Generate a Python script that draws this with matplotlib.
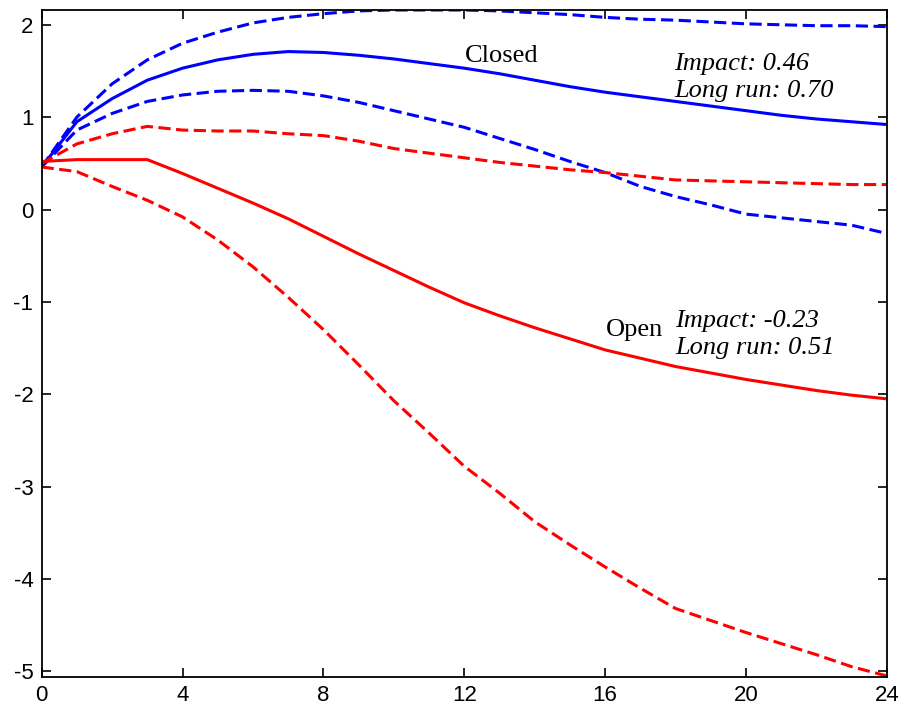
import matplotlib.pyplot as plt
import numpy as np

plt.rcParams["axes.unicode_minus"] = False

# Horizont (Perioden)
horizon = np.arange(0, 25)

# Closed economy: Punktschaetzung und Baender
closed_mid = [0.46, 0.95, 1.20, 1.40, 1.53, 1.62, 1.68, 1.71, 1.70, 1.67, 1.63, 1.58, 1.53,
              1.47, 1.40, 1.33, 1.27, 1.22, 1.17, 1.12, 1.07, 1.02, 0.98, 0.95, 0.92]
closed_up = [0.46, 1.00, 1.36, 1.62, 1.80, 1.92, 2.02, 2.08, 2.12, 2.15, 2.16, 2.16, 2.16,
             2.15, 2.13, 2.11, 2.08, 2.06, 2.05, 2.03, 2.01, 2.00, 1.99, 1.99, 1.98]
closed_lo = [0.46, 0.86, 1.04, 1.17, 1.24, 1.28, 1.29, 1.28, 1.23, 1.16, 1.07, 0.98, 0.89,
             0.77, 0.65, 0.52, 0.40, 0.25, 0.14, 0.05, -0.05, -0.09, -0.13, -0.17, -0.26]

# Open economy
open_mid = [0.52, 0.54, 0.54, 0.54, 0.39, 0.23, 0.07, -0.10, -0.29, -0.48, -0.66, -0.84, -1.01,
            -1.15, -1.28, -1.40, -1.52, -1.61, -1.70, -1.77, -1.84, -1.90, -1.96, -2.01, -2.05]
open_up = [0.50, 0.71, 0.82, 0.90, 0.86, 0.85, 0.85, 0.82, 0.80, 0.74, 0.66, 0.61, 0.56,
           0.51, 0.47, 0.43, 0.40, 0.36, 0.32, 0.31, 0.30, 0.29, 0.28, 0.27, 0.27]
open_lo = [0.46, 0.41, 0.25, 0.10, -0.08, -0.33, -0.62, -0.95, -1.30, -1.68, -2.07, -2.42, -2.78,
           -3.07, -3.38, -3.63, -3.87, -4.10, -4.32, -4.45, -4.58, -4.70, -4.82, -4.95, -5.05]

xticks = [0, 4, 8, 12, 16, 20, 24]
yticks = [-5, -4, -3, -2, -1, 0, 1, 2]

fig = plt.figure(figsize=(9.05, 7.14), dpi=100)
ax = fig.add_axes([0.046, 0.052, 0.934, 0.934])

lw = 2.2
dash = (4, 1.8)
ax.plot(horizon, closed_up, color="blue", lw=lw, dashes=dash)
ax.plot(horizon, closed_lo, color="blue", lw=lw, dashes=dash)
ax.plot(horizon, closed_mid, color="blue", lw=lw)
ax.plot(horizon, open_up, color="red", lw=lw, dashes=dash)
ax.plot(horizon, open_lo, color="red", lw=lw, dashes=dash)
ax.plot(horizon, open_mid, color="red", lw=lw)

ax.set_xlim(0, 24)
ax.set_ylim(-5.06, 2.16)
ax.set_xticks(xticks)
ax.set_yticks(yticks)
ax.tick_params(direction="in", length=6.5, width=1.2, top=True, right=True,
               labelsize=16, pad=6)
for lab in ax.get_xticklabels() + ax.get_yticklabels():
    lab.set_family("Liberation Sans")
for s in ax.spines.values():
    s.set_linewidth(1.3)

serif = "Liberation Serif"
ax.text(12.03, 1.595, "Closed", fontsize=19, family=serif, va="baseline")
ax.text(17.95, 1.51, "Impact: 0.46", fontsize=19, family=serif, style="italic", va="baseline")
ax.text(17.95, 1.215, "Long run: 0.70", fontsize=19, family=serif, style="italic", va="baseline")
ax.text(16.03, -1.37, "Open", fontsize=19, family=serif, va="baseline")
ax.text(18.0, -1.27, "Impact: -0.23", fontsize=19, family=serif, style="italic", va="baseline")
ax.text(18.0, -1.56, "Long run: 0.51", fontsize=19, family=serif, style="italic", va="baseline")

fig.savefig("out.png", dpi=100)
